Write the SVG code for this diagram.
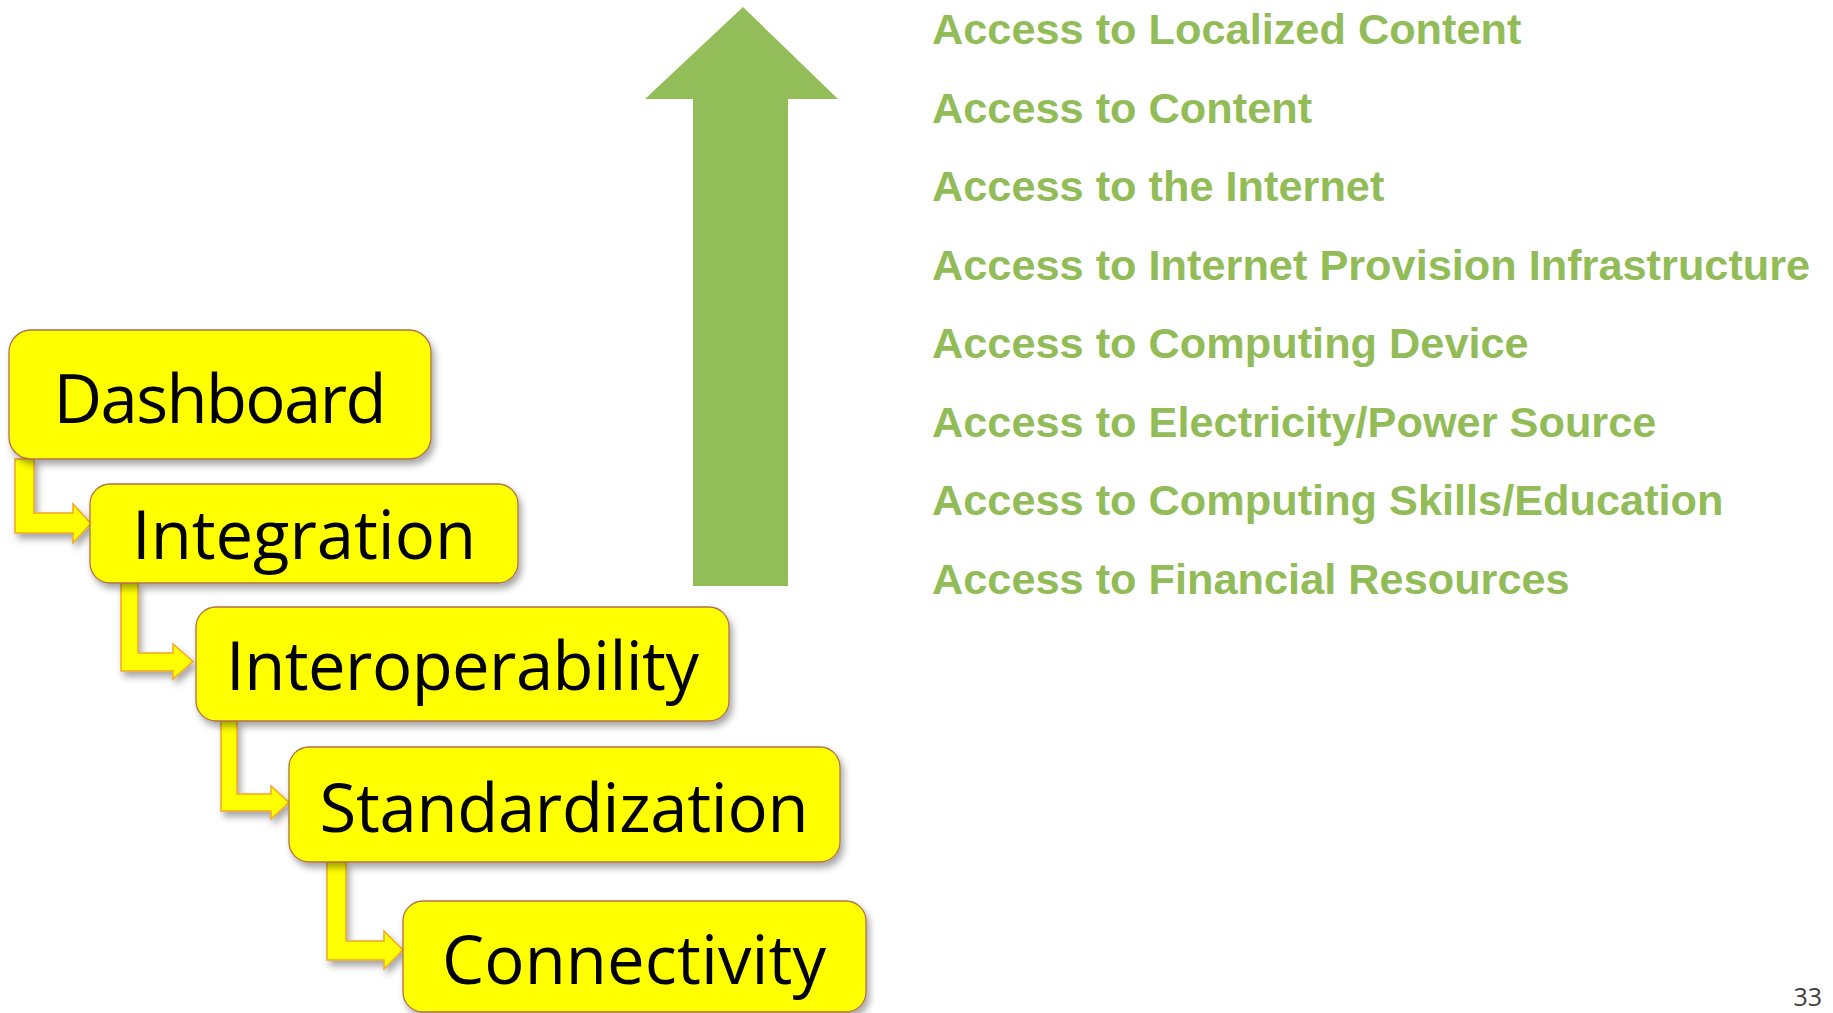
<svg xmlns="http://www.w3.org/2000/svg" width="1833" height="1013" viewBox="0 0 1833 1013">
  <defs>
    <filter id="sh" x="-10%" y="-10%" width="130%" height="140%">
      <feDropShadow dx="3" dy="5" stdDeviation="3.5" flood-color="#000" flood-opacity="0.35"/>
    </filter>
    <style>
      .box { fill: #ffff00; stroke: #b0704a; stroke-width: 1.3; filter: url(#sh); }
      .lbl { font-family: "Open Sans", "Noto Sans", sans-serif; font-size: 67px; fill: #000; text-anchor: middle; }
      .conn { fill: #ffff00; stroke: #f0a828; stroke-width: 1.5; stroke-linejoin: miter; filter: url(#sh); }
      .acc { font-family: "Liberation Sans", Arial, sans-serif; font-weight: bold; font-size: 43.3px; fill: #92bc57; }
      .pg { font-family: "Open Sans", "Noto Sans", sans-serif; font-size: 25px; fill: #404040; text-anchor: end; }
    </style>
  </defs>
  <rect width="1833" height="1013" fill="#ffffff"/>

  <g id="connectors">
    <polygon class="conn" points="15,459 34,459 34,513 73,513 73,504 91,523.5 73,543 73,533 15,533"/>
    <polygon class="conn" points="121,583 138,583 138,653 173,653 173,644 193,661.5 173,679 173,671 121,671"/>
    <polygon class="conn" points="221,721 237,721 237,794 271,794 271,786 289,802.5 271,819 271,811 221,811"/>
    <polygon class="conn" points="327,862 346,862 346,941 384,941 384,931 403,950 384,969 384,960 327,960"/>
  </g>

  <g id="node-dashboard">
    <rect class="box" x="9" y="330" width="422" height="129" rx="22"/>
    <text class="lbl" x="220" y="423" textLength="333">Dashboard</text>
  </g>
  <g id="node-integration">
    <rect class="box" x="90" y="484" width="428" height="99" rx="20"/>
    <text class="lbl" x="304" y="559" textLength="344">Integration</text>
  </g>
  <g id="node-interoperability">
    <rect class="box" x="196" y="607" width="533" height="114" rx="20"/>
    <text class="lbl" x="462.5" y="690" textLength="473">Interoperability</text>
  </g>
  <g id="node-standardization">
    <rect class="box" x="289" y="747" width="551" height="115" rx="20"/>
    <text class="lbl" x="564" y="832" textLength="489">Standardization</text>
  </g>
  <g id="node-connectivity">
    <rect class="box" x="403" y="901" width="463" height="111" rx="20"/>
    <text class="lbl" x="634" y="984" textLength="384">Connectivity</text>
  </g>

  <g id="green-arrow">
    <polygon fill="#93bd58" points="743,7 838,99 788,99 788,586 693,586 693,99 645,99"/>
  </g>

  <g id="access-list">
    <text class="acc" x="932" y="43.5">Access to Localized Content</text>
    <text class="acc" x="932" y="122.5">Access to Content</text>
    <text class="acc" x="932" y="201">Access to the Internet</text>
    <text class="acc" x="932" y="279.5">Access to Internet Provision Infrastructure</text>
    <text class="acc" x="932" y="358">Access to Computing Device</text>
    <text class="acc" x="932" y="436.5">Access to Electricity/Power Source</text>
    <text class="acc" x="932" y="515">Access to Computing Skills/Education</text>
    <text class="acc" x="932" y="594">Access to Financial Resources</text>
  </g>

  <text class="pg" x="1822" y="1006">33</text>
</svg>
